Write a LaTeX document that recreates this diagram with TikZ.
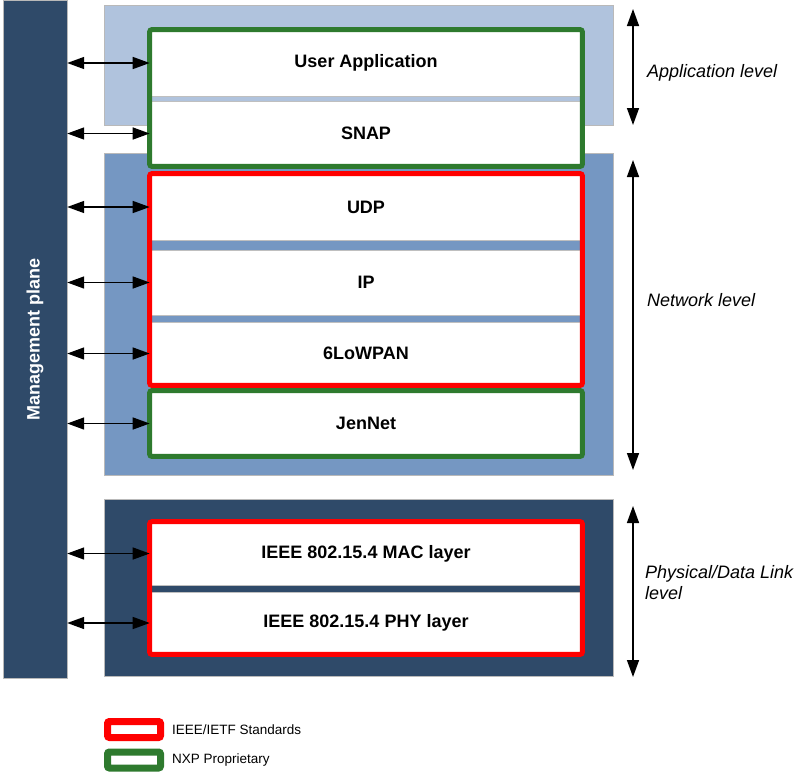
\documentclass[tikz,border=0pt]{standalone}
\usepackage{fontspec}
\setmainfont{Liberation Sans}
\usetikzlibrary{arrows.meta,positioning}
\definecolor{mgmtblue}{HTML}{2F4A69}
\definecolor{appblue}{HTML}{B0C3DD}
\definecolor{netblue}{HTML}{7597C2}
\definecolor{stdred}{HTML}{FF0000}
\definecolor{nxpgreen}{HTML}{2E7A2E}
\newcommand{\lblfont}{\fontsize{18}{21}\selectfont}
\newcommand{\legfont}{\fontsize{13.5}{16}\selectfont}

\begin{document}
\begin{tikzpicture}[x=1pt,y=-1pt,
    every node/.style={font=\lblfont},
    levelbg/.style={draw=gray!55,line width=0.8pt,minimum width=509pt,inner sep=0pt},
    layerbox/.style={draw=gray!50,fill=white,line width=0.6pt,
      minimum width=432pt,inner sep=0pt,font=\lblfont\bfseries},
    stdframe/.style={draw=stdred,line width=5pt,rounded corners=2pt},
    nxpframe/.style={draw=nxpgreen,line width=5pt,rounded corners=2pt},
    biarrow/.style={{Triangle[length=17pt,width=12pt]}-{Triangle[length=17pt,width=12pt]},
      line width=1.5pt},
    levellabel/.style={font=\lblfont\itshape,anchor=west,align=left,inner sep=0pt},
    legendbox/.style={fill=white,line width=7pt,rounded corners=2pt,
      minimum width=53pt,minimum height=16pt,inner sep=0pt}]
  \useasboundingbox (0,0) rectangle (800,772);

  % management plane
  \node[fill=mgmtblue,draw=gray!55,minimum width=64pt,minimum height=678pt,inner sep=0pt]
    (mgmt) at (35,339) {};
  \node[rotate=90,text=white,font=\lblfont\bfseries] (mgmtlbl) at (mgmt.center) {Management plane};

  % level backgrounds
  \node[levelbg,fill=appblue,minimum height=120pt] (appbg) at (358.5,65) {};
  \node[levelbg,fill=netblue,minimum height=322pt] (netbg) at (358.5,314) {};
  \node[levelbg,fill=mgmtblue,minimum height=177pt] (phybg) at (358.5,587.5) {};

  % protocol layers
  \node[layerbox,minimum height=66pt] (ua) at (366,63) {User Application};
  \node[layerbox,minimum height=65pt] (snap) at (366,133.5) {SNAP};
  \node[layerbox,minimum height=66pt] (udp) at (366,207) {UDP};
  \node[layerbox,minimum height=65pt] (ip) at (366,282.5) {IP};
  \node[layerbox,minimum height=63pt] (lowpan) at (366,353.5) {6LoWPAN};
  \node[layerbox,minimum height=65pt] (jennet) at (366,423.5) {JenNet};
  \node[layerbox,minimum height=63pt] (mac) at (366,553.5) {IEEE 802.15.4 MAC layer};
  \node[layerbox,minimum height=62pt] (phy) at (366,623) {IEEE 802.15.4 PHY layer};

  % standard / proprietary frames
  \draw[nxpframe] (ua.north west) rectangle (snap.south east);
  \draw[stdframe] (udp.north west) rectangle (lowpan.south east);
  \draw[nxpframe] (jennet.north west) rectangle (jennet.south east);
  \draw[stdframe] (mac.north west) rectangle (phy.south east);

  % management links
  \foreach \layer in {ua,snap,udp,ip,lowpan,jennet,mac,phy}
    \draw[biarrow] (mgmt.east |- \layer.west) -- (\layer.west);

  % levels
  \coordinate (apptop) at (633,9);
  \coordinate (appbot) at (633,125);
  \coordinate (nettop) at (633,160);
  \coordinate (netbot) at (633,470);
  \coordinate (phytop) at (633,506);
  \coordinate (phybot) at (633,677);
  \draw[biarrow] (apptop) -- (appbot);
  \draw[biarrow] (nettop) -- (netbot);
  \draw[biarrow] (phytop) -- (phybot);
  \node[levellabel] (applbl) at (647,73) {Application level};
  \node[levellabel] (netlbl) at (647,300) {Network level};
  \node[levellabel] (phylbl) at (645,583) {Physical/Data Link\\level};

  % legend
  \node[legendbox,draw=stdred] (legstd) at (134,729.5) {};
  \node[legendbox,draw=nxpgreen] (legnxp) at (134,760) {};
  \node[font=\legfont,inner sep=0pt,right=8pt of legstd] (legstdlbl) {IEEE/IETF Standards};
  \node[font=\legfont,inner sep=0pt,right=8pt of legnxp] (legnxplbl) {NXP Proprietary};
\end{tikzpicture}
\end{document}
